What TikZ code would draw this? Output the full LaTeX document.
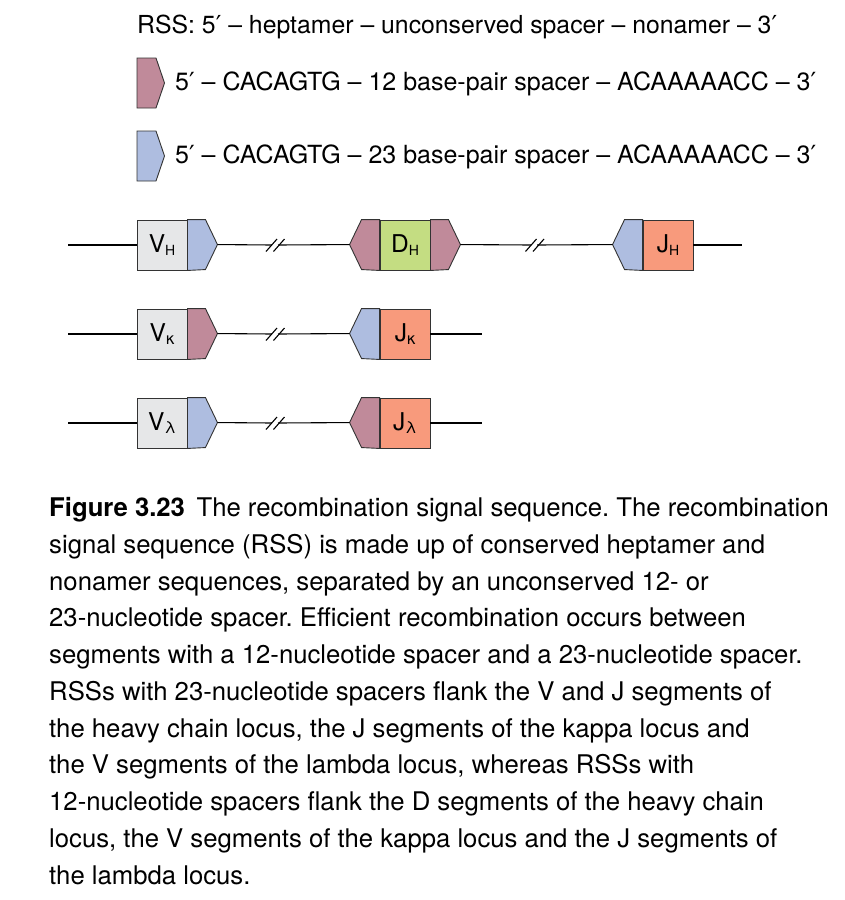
\documentclass[tikz,border=0pt]{standalone}
\usepackage{fontspec}
\setmainfont{TeX Gyre Heros}
\newfontfamily\primefont{DejaVu Sans}
\newcommand\pr{{\primefont\char"2032}}
\definecolor{vgrey}{HTML}{E6E7E8}
\definecolor{rblue}{HTML}{AEBDE0}
\definecolor{rmauve}{HTML}{C08A9A}
\definecolor{dgreen}{HTML}{C4DD82}
\definecolor{jsalmon}{HTML}{F89A7C}
\definecolor{edge}{HTML}{333333}
\newcommand\gsub[1]{\raisebox{-3pt}{\fontsize{14}{14}\selectfont #1}}
\newcommand\gsubgr[1]{\raisebox{-2.5pt}{\fontsize{16.5}{16.5}\selectfont #1}}
\frenchspacing
\begin{document}
\begin{tikzpicture}[x=1pt,y=-1pt,
  seg/.style={draw=edge,line width=0.9pt,minimum width=50pt,minimum height=50pt,inner sep=0pt,font=\fontsize{24.5}{24.5}\selectfont},
  rss/.style={draw=edge,line width=0.9pt,line join=miter},
  dna/.style={line width=1.1pt,black},
  brk/.style={line width=1.1pt,black},
  txt/.style={anchor=base west,inner sep=0pt,font=\fontsize{24.8}{24.8}\selectfont},
  lgtxt/.style={anchor=base west,inner sep=0pt,font=\fontsize{25}{25}\selectfont},
  captxt/.style={anchor=base west,inner sep=0pt,font=\fontsize{25.7}{25.7}\selectfont}]
\useasboundingbox (0,0) rectangle (844,900);

% legend
\node[txt] (t0) at (137,33) {RSS: 5\pr{} – heptamer – unconserved spacer – nonamer – 3\pr};
\draw[rss,fill=rmauve] (137,58) -- (156,58) -- (164.5,83) -- (156,108) -- (137,108) -- cycle;
\node[lgtxt] (t1) at (175,90) {5\pr{} – CACAGTG – 12 base-pair spacer – ACAAAAACC – 3\pr};
\draw[rss,fill=rblue] (137,131) -- (156,131) -- (164.5,156) -- (156,181) -- (137,181) -- cycle;
\node[lgtxt] (t2) at (175,163) {5\pr{} – CACAGTG – 23 base-pair spacer – ACAAAAACC – 3\pr};

% ---------- heavy chain row ----------
\coordinate (h0) at (68,245);
\node[seg,fill=vgrey] (vh) at (162,245) {V\gsub{H}};
\draw[rss,fill=rblue] (vh.north east) -- ++(18,0) -- ++(12,25) coordinate (vhtip) -- ++(-12,25) -- (vh.south east) -- cycle;
\node[seg,fill=dgreen] (dh) at (405,245) {D\gsub{H}};
\draw[rss,fill=rmauve] (dh.north west) -- ++(-18,0) -- ++(-12,25) coordinate (dhl) -- ++(12,25) -- (dh.south west) -- cycle;
\draw[rss,fill=rmauve] (dh.north east) -- ++(18,0) -- ++(12,25) coordinate (dhr) -- ++(-12,25) -- (dh.south east) -- cycle;
\node[seg,fill=jsalmon] (jh) at (668,245) {J\gsub{H}};
\draw[rss,fill=rblue] (jh.north west) -- ++(-18,0) -- ++(-12,25) coordinate (jhl) -- ++(12,25) -- (jh.south west) -- cycle;
\coordinate (h1) at (742,245);
\coordinate (hb1a) at (272,245); \coordinate (hb1b) at (278,245);
\coordinate (hb2a) at (531,245); \coordinate (hb2b) at (537,245);
\draw[dna] (h0) -- (vh.west);
\draw[dna] (vhtip) -- (hb1a);
\draw[dna] (hb1b) -- (dhl);
\draw[dna] (dhr) -- (hb2a);
\draw[dna] (hb2b) -- (jhl);
\draw[dna] (jh.east) -- (h1);
\draw[brk] (266,251.5) -- (277,239);
\draw[brk] (273.5,251.5) -- (284.5,239);
\draw[brk] (525.5,251.5) -- (536.5,239);
\draw[brk] (533,251.5) -- (544,239);

% ---------- kappa row ----------
\coordinate (k0) at (68,334);
\node[seg,fill=vgrey] (vk) at (162,334) {V\gsubgr{κ}};
\draw[rss,fill=rmauve] (vk.north east) -- ++(18,0) -- ++(12,25) coordinate (vktip) -- ++(-12,25) -- (vk.south east) -- cycle;
\node[seg,fill=jsalmon] (jk) at (405,334) {J\gsubgr{κ}};
\draw[rss,fill=rblue] (jk.north west) -- ++(-18,0) -- ++(-12,25) coordinate (jkl) -- ++(12,25) -- (jk.south west) -- cycle;
\coordinate (k1) at (482,334);
\coordinate (kba) at (272,334); \coordinate (kbb) at (278,334);
\draw[dna] (k0) -- (vk.west);
\draw[dna] (vktip) -- (kba);
\draw[dna] (kbb) -- (jkl);
\draw[dna] (jk.east) -- (k1);
\draw[brk] (266,340.5) -- (277,328);
\draw[brk] (273.5,340.5) -- (284.5,328);

% ---------- lambda row ----------
\coordinate (l0) at (68,423);
\node[seg,fill=vgrey] (vl) at (162,423) {V\gsubgr{λ}};
\draw[rss,fill=rblue] (vl.north east) -- ++(18,0) -- ++(12,25) coordinate (vltip) -- ++(-12,25) -- (vl.south east) -- cycle;
\node[seg,fill=jsalmon] (jl) at (405,423) {J\gsubgr{λ}};
\draw[rss,fill=rmauve] (jl.north west) -- ++(-18,0) -- ++(-12,25) coordinate (jll) -- ++(12,25) -- (jl.south west) -- cycle;
\coordinate (l1) at (482,423);
\coordinate (lba) at (272,423); \coordinate (lbb) at (278,423);
\draw[dna] (l0) -- (vl.west);
\draw[dna] (vltip) -- (lba);
\draw[dna] (lbb) -- (jll);
\draw[dna] (jl.east) -- (l1);
\draw[brk] (266,429.5) -- (277,417);
\draw[brk] (273.5,429.5) -- (284.5,417);

% ---------- caption ----------
\node[captxt] (c1) at (49,516.5) {\textbf{Figure 3.23}\hspace{0.45em}The recombination signal sequence. The recombination};
\node[captxt] (c2) at (49,553.25) {signal sequence (RSS) is made up of conserved heptamer and};
\node[captxt] (c3) at (49,590) {nonamer sequences, separated by an unconserved 12- or};
\node[captxt] (c4) at (49,626.75) {23-nucleotide spacer. Efficient recombination occurs between};
\node[captxt] (c5) at (49,663.5) {segments with a 12-nucleotide spacer and a 23-nucleotide spacer.};
\node[captxt] (c6) at (49,700.25) {RSSs with 23-nucleotide spacers flank the V and J segments of};
\node[captxt] (c7) at (49,737) {the heavy chain locus, the J segments of the kappa locus and};
\node[captxt] (c8) at (49,773.75) {the V segments of the lambda locus, whereas RSSs with};
\node[captxt] (c9) at (49,810.5) {12-nucleotide spacers flank the D segments of the heavy chain};
\node[captxt] (c10) at (49,847.25) {locus, the V segments of the kappa locus and the J segments of};
\node[captxt] (c11) at (49,884) {the lambda locus.};
\end{tikzpicture}
\end{document}
